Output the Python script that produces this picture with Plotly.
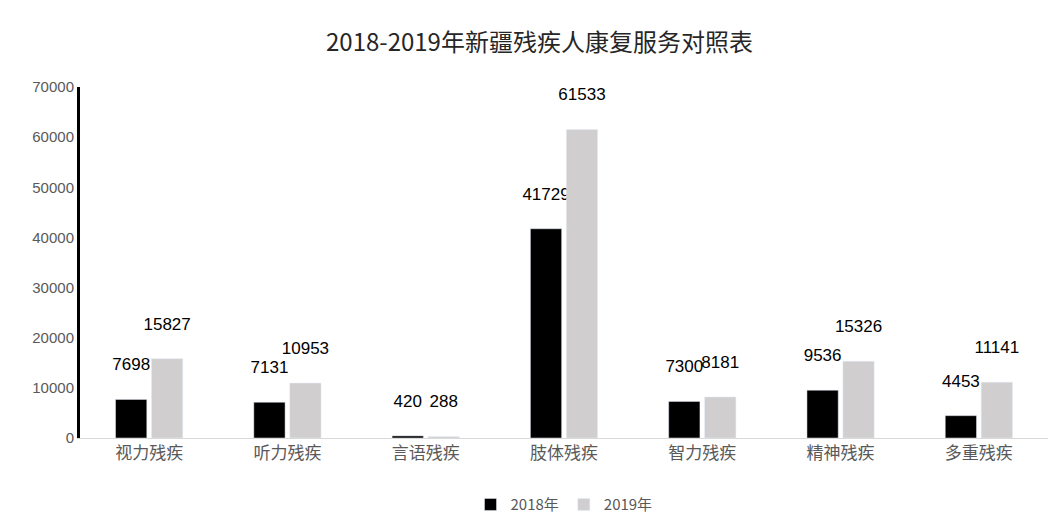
import plotly.graph_objects as go

categories = ['视力残疾', '听力残疾', '言语残疾', '肢体残疾', '智力残疾', '精神残疾', '多重残疾']
values_2018 = [7698, 7131, 420, 41729, 7300, 9536, 4453]
values_2019 = [15827, 10953, 288, 61533, 8181, 15326, 11141]

font = 'Noto Sans CJK SC'
fig = go.Figure()
fig.add_trace(go.Bar(name='2018年', x=categories, y=values_2018, marker_color='#000000',
                     text=values_2018, texttemplate='%{text}<br> ', textposition='outside',
                     cliponaxis=False, constraintext='none',
                     textfont=dict(family='Liberation Sans', size=17, color='#000000')))
fig.add_trace(go.Bar(name='2019年', x=categories, y=values_2019, marker_color='#d0cece',
                     text=values_2019, texttemplate='%{text}<br> ', textposition='outside',
                     cliponaxis=False, constraintext='none',
                     textfont=dict(family='Liberation Sans', size=17, color='#000000')))

fig.update_layout(
    width=1063, height=530,
    paper_bgcolor='white', plot_bgcolor='white',
    font=dict(family=font, size=15, color='#595959'),
    title=dict(text='2018-2019年新疆残疾人康复服务对照表', x=0.5, y=0.935, xanchor='center',
               yanchor='middle', font=dict(size=24, color='#262626')),
    margin=dict(l=72, r=23, t=79, b=100, autoexpand=False),
    barmode='group', bargap=0.48, bargroupgap=0.13,
    legend=dict(orientation='h', x=0.5, xanchor='center', y=-0.19, yanchor='middle',
                font=dict(size=15, color='#595959')),
    uniformtext=dict(mode=False),
)
fig.update_xaxes(showline=True, linecolor='#d9d9d9', linewidth=1, ticks='',
                 tickfont=dict(size=17, color='#595959'))
fig.update_yaxes(range=[0, 70000], dtick=10000, tickformat='d', showgrid=False, showline=True,
                 linecolor='#000000', linewidth=3, ticks='', zeroline=False,
                 tickfont=dict(family='Liberation Sans', size=15, color='#595959'))

fig.write_html('out.html')
